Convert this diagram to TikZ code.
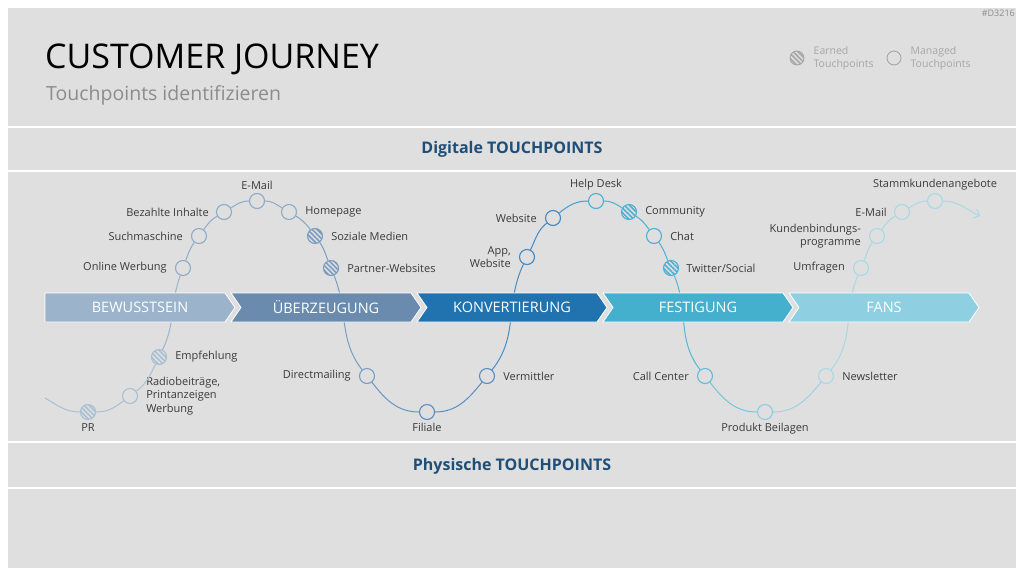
\documentclass[tikz,border=0pt]{standalone}
\usepackage{fontspec}
\setmainfont{Open Sans}
\usetikzlibrary{positioning,arrows.meta,patterns.meta}
\definecolor{panel}{HTML}{DFDFDF}
\definecolor{labelgray}{HTML}{3A3A3A}
\definecolor{subgray}{HTML}{8C8C8C}
\definecolor{leggray}{HTML}{A6A6A6}
\definecolor{sectblue}{HTML}{1F4E79}
\definecolor{chA}{HTML}{9BB3CB}
\definecolor{chB}{HTML}{6A8BAD}
\definecolor{chC}{HTML}{2073AE}
\definecolor{chD}{HTML}{45B0CE}
\definecolor{chE}{HTML}{8ED0E1}
\definecolor{jA}{HTML}{A9BFD4}
\definecolor{jB}{HTML}{8FABC9}
\definecolor{jC}{HTML}{7B9DC2}
\definecolor{jD}{HTML}{5A8EC2}
\definecolor{jE}{HTML}{3F88C4}
\definecolor{jF}{HTML}{4FAFD3}
\definecolor{jG}{HTML}{62BBD7}
\definecolor{jH}{HTML}{8DCDE0}
\definecolor{jI}{HTML}{A8D9E7}

\begin{document}
\begin{tikzpicture}[x=1pt, y=1pt,
  tp/.style={circle, draw=#1, line width=1.1pt, fill=panel,
             minimum size=15pt, inner sep=0pt},
  earned/.style={tp=#1, preaction={fill=panel},
                 pattern={Lines[angle=-45, distance=3.4pt, line width=1.6pt]},
                 pattern color=#1},
  jline/.style={draw=#1, line width=1pt},
  lbl/.style={font=\fontsize{11}{13.5}\selectfont, text=labelgray, inner sep=1pt},
  legtxt/.style={font=\fontsize{10.5}{13}\selectfont, text=leggray,
                 align=left, inner sep=1pt},
  sect/.style={font=\fontsize{16}{18}\selectfont\bfseries, text=sectblue},
  chev/.style={draw=white, line width=0.8pt},
  phase/.style={font=\fontsize{14.5}{16}\selectfont, text=white},
  sep/.style={white, line width=1.5pt}
]
  \useasboundingbox (0,0) rectangle (1024,-576);
  \fill[white] (0,0) rectangle (1024,-576);
  \fill[panel] (8,-8) rectangle (1016,-568);
  \draw[sep] (8,-127) -- (1016,-127);
  \draw[sep] (8,-171) -- (1016,-171);
  \draw[sep] (8,-442) -- (1016,-442);
  \draw[sep] (8,-488) -- (1016,-488);

  % header
  \node[anchor=base west, inner sep=0pt, font=\fontsize{34}{36}\selectfont]
       (title) at (45,-68) {CUSTOMER JOURNEY};
  \node[anchor=base west, inner sep=0pt, text=subgray, font=\fontsize{19.5}{22}\selectfont]
       (subtitle) at (46,-100) {Touchpoints identifizieren};
  \node[anchor=north east, inner sep=0pt, text=subgray, font=\fontsize{9}{10}\selectfont]
       (code) at (1015,-10) {\#D3216};

  \node[earned=leggray, minimum size=14pt, line width=0.9pt] (legearned) at (797,-58) {};
  \node[legtxt, right=8pt of legearned] (legearnedtxt) {Earned\\Touchpoints};
  \node[tp=leggray, minimum size=14pt, line width=0.9pt] (legmanaged) at (894,-58) {};
  \node[legtxt, right=8pt of legmanaged] (legmanagedtxt) {Managed\\Touchpoints};

  \node[sect] (digital) at (512,-149) {Digitale TOUCHPOINTS};
  \node[sect] (physical) at (512,-466) {Physische TOUCHPOINTS};

  % touchpoints
  \coordinate (jstart) at (45,-398);
  \node[earned=jA] (pr) at (88,-412) {};
  \node[tp=jA] (radio) at (130,-396) {};
  \node[earned=jA] (empf) at (159,-357) {};
  \node[tp=jB] (online) at (183,-268) {};
  \node[tp=jB] (such) at (199,-236) {};
  \node[tp=jB] (bezahlt) at (224,-212) {};
  \node[tp=jB] (mailA) at (257,-201) {};
  \node[tp=jB] (home) at (289,-212) {};
  \node[earned=jC] (sozial) at (315,-236) {};
  \node[earned=jC] (partner) at (331,-268) {};
  \node[tp=jC] (direct) at (367,-376) {};
  \node[tp=jD] (filiale) at (427,-412) {};
  \node[tp=jD] (vermittler) at (487,-376) {};
  \node[tp=jE] (app) at (527,-257) {};
  \node[tp=jE] (website) at (553,-218) {};
  \node[tp=jF] (helpdesk) at (596,-201) {};
  \node[earned=jF] (community) at (629,-212) {};
  \node[tp=jF] (chat) at (654,-236) {};
  \node[earned=jF] (twitter) at (671,-268) {};
  \node[tp=jG] (callcenter) at (705,-376) {};
  \node[tp=jH] (produkt) at (765,-412) {};
  \node[tp=jI] (newsletter) at (826,-376) {};
  \node[tp=jI] (umfragen) at (861,-268) {};
  \node[tp=jI] (kunden) at (877,-236) {};
  \node[tp=jI] (mailB) at (902,-212) {};
  \node[tp=jI] (stamm) at (935,-201) {};
  \coordinate (jend) at (980,-216);

  \node[lbl, below=2pt of pr] {PR};
  \node[lbl, right=7pt of radio, align=left] {Radiobeiträge,\\Printanzeigen\\Werbung};
  \node[lbl, right=7pt of empf] {Empfehlung};
  \node[lbl, left=7pt of online] {Online Werbung};
  \node[lbl, left=7pt of such] {Suchmaschine};
  \node[lbl, left=6pt of bezahlt] {Bezahlte Inhalte};
  \node[lbl, above=2pt of mailA] {E-Mail};
  \node[lbl, right=7pt of home] {Homepage};
  \node[lbl, right=7pt of sozial] {Soziale Medien};
  \node[lbl, right=7pt of partner] {Partner-Websites};
  \node[lbl, left=7pt of direct] {Directmailing};
  \node[lbl, below=2pt of filiale] {Filiale};
  \node[lbl, right=7pt of vermittler] {Vermittler};
  \node[lbl, left=7pt of app, align=right] {App,\\Website};
  \node[lbl, left=7pt of website] {Website};
  \node[lbl, above=2pt of helpdesk] {Help Desk};
  \node[lbl, right=7pt of community] {Community};
  \node[lbl, right=7pt of chat] {Chat};
  \node[lbl, right=6pt of twitter] {Twitter/Social};
  \node[lbl, left=7pt of callcenter] {Call Center};
  \node[lbl, below=2pt of produkt] {Produkt Beilagen};
  \node[lbl, right=7pt of newsletter] {Newsletter};
  \node[lbl, left=7pt of umfragen] {Umfragen};
  \node[lbl, left=7pt of kunden, align=right] {Kundenbindungs-\\programme};
  \node[lbl, left=6pt of mailB] {E-Mail};
  \node[lbl, above=2pt of stamm] {Stammkundenangebote};

  % the journey line
  \draw[jline=jA] (jstart) to[out=-30, in=180] (pr);
  \draw[jline=jA] (pr) to[out=0, in=217] (radio);
  \draw[jline=jA] (radio) to[out=37, in=244] (empf);
  \draw[jline=jA!50!jB] (empf) to[out=64, in=250] (online);
  \draw[jline=jB] (online) to[out=70, in=234] (such);
  \draw[jline=jB] (such) to[out=54, in=211] (bezahlt);
  \draw[jline=jB] (bezahlt) to[out=31, in=180] (mailA);
  \draw[jline=jB] (mailA) to[out=0, in=149] (home);
  \draw[jline=jB!50!jC] (home) to[out=-31, in=126] (sozial);
  \draw[jline=jC] (sozial) to[out=-54, in=112] (partner);
  \draw[jline=jC] (partner) to[out=-68, in=128] (direct);
  \draw[jline=jC!50!jD] (direct) to[out=-52, in=180] (filiale);
  \draw[jline=jD] (filiale) to[out=0, in=231] (vermittler);
  \draw[jline=jD!50!jE] (vermittler) to[out=51, in=244] (app);
  \draw[jline=jE] (app) to[out=64, in=219] (website);
  \draw[jline=jE!50!jF] (website) to[out=39, in=180] (helpdesk);
  \draw[jline=jF] (helpdesk) to[out=0, in=149] (community);
  \draw[jline=jF] (community) to[out=-31, in=127] (chat);
  \draw[jline=jF] (chat) to[out=-53, in=113] (twitter);
  \draw[jline=jF!50!jG] (twitter) to[out=-67, in=128] (callcenter);
  \draw[jline=jG!50!jH] (callcenter) to[out=-52, in=180] (produkt);
  \draw[jline=jH!50!jI] (produkt) to[out=0, in=231] (newsletter);
  \draw[jline=jI] (newsletter) to[out=51, in=247] (umfragen);
  \draw[jline=jI] (umfragen) to[out=67, in=234] (kunden);
  \draw[jline=jI] (kunden) to[out=54, in=211] (mailB);
  \draw[jline=jI] (mailB) to[out=31, in=180] (stamm);
  \draw[jline=jI, -{Straight Barb[length=5pt, width=10pt]}]
       (stamm) to[out=0, in=155] (jend);

  % phases
  \foreach \i/\col/\txt in {0/chA/BEWUSSTSEIN, 1/chB/ÜBERZEUGUNG,
                            2/chC/KONVERTIERUNG, 3/chD/FESTIGUNG, 4/chE/FANS} {
    \pgfmathsetmacro\xl{45+186*\i}
    \filldraw[chev, fill=\col] (\xl,-293) -- ++(180,0) -- ++(10,-14.5)
       -- ++(-10,-14.5) -- ++(-180,0) -- ++({\i>0 ? 10 : 0},14.5) -- cycle;
    \node[phase] (phase\i) at (\xl+95,-307.5) {\txt};
  }
\end{tikzpicture}
\end{document}
